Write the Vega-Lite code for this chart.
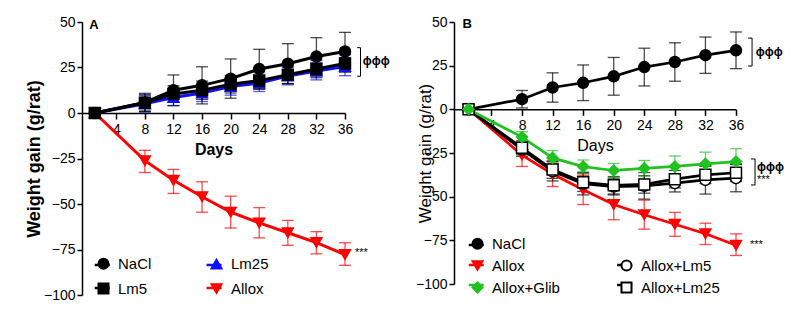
{
  "$schema": "https://vega.github.io/schema/vega-lite/v6.json",
  "background": "white",
  "padding": {"left": 25, "top": 15, "right": 0, "bottom": 0},
  "config": {
    "view": {"stroke": null},
    "font": "Liberation Sans",
    "axis": {"grid": false, "domainColor": "#000", "domainWidth": 1.5, "tickColor": "#000", "tickWidth": 1.5, "labelColor": "#000", "titleColor": "#000", "labelFont": "Liberation Sans", "titleFont": "Liberation Sans", "labelFontSize": 14},
    "legend": {"symbolSize": 100, "symbolStrokeWidth": 2, "labelFontSize": 15, "labelFont": "Liberation Sans", "labelColor": "#000", "labelOffset": 7, "padding": 0, "symbolOpacity": 1}
  },
  "spacing": 25,
  "resolve": {
    "scale": {"x": "independent", "y": "independent", "color": "independent", "stroke": "independent", "fill": "independent", "shape": "independent"},
    "legend": {"color": "independent", "stroke": "independent", "fill": "independent", "shape": "independent"}
  },
  "datasets": {
    "A": [
      {"g": "Allox", "x": 1, "y": 0},
      {"g": "Allox", "x": 8, "y": -26.2, "lo": -32.7, "hi": -20.5},
      {"g": "Allox", "x": 12, "y": -37, "lo": -44.2, "hi": -31},
      {"g": "Allox", "x": 16, "y": -46, "lo": -54.5, "hi": -37.8},
      {"g": "Allox", "x": 20, "y": -54.5, "lo": -63.2, "hi": -45.7},
      {"g": "Allox", "x": 24, "y": -60.4, "lo": -68.6, "hi": -52},
      {"g": "Allox", "x": 28, "y": -65.8, "lo": -72.7, "hi": -59},
      {"g": "Allox", "x": 32, "y": -71.2, "lo": -77.4, "hi": -65.2},
      {"g": "Allox", "x": 36, "y": -77.8, "lo": -83.7, "hi": -71.3},
      {"g": "Lm25", "x": 1, "y": 0},
      {"g": "Lm25", "x": 8, "y": 5, "lo": 0.5, "hi": 9.5},
      {"g": "Lm25", "x": 12, "y": 8.5, "lo": 4, "hi": 13},
      {"g": "Lm25", "x": 16, "y": 11, "lo": 6.3, "hi": 15.7},
      {"g": "Lm25", "x": 20, "y": 14.5, "lo": 9.8, "hi": 19.2},
      {"g": "Lm25", "x": 24, "y": 16.5, "lo": 11.8, "hi": 21.2},
      {"g": "Lm25", "x": 28, "y": 20.3, "lo": 15.5, "hi": 25.1},
      {"g": "Lm25", "x": 32, "y": 23, "lo": 18.2, "hi": 27.8},
      {"g": "Lm25", "x": 36, "y": 25.5, "lo": 20.5, "hi": 30.5},
      {"g": "NaCl", "x": 1, "y": 0},
      {"g": "NaCl", "x": 8, "y": 5.8, "lo": 0.8, "hi": 10.8},
      {"g": "NaCl", "x": 12, "y": 12.5, "lo": 4.1, "hi": 20.9},
      {"g": "NaCl", "x": 16, "y": 15.2, "lo": 5, "hi": 25.4},
      {"g": "NaCl", "x": 20, "y": 18.9, "lo": 8.1, "hi": 29.7},
      {"g": "NaCl", "x": 24, "y": 24.2, "lo": 13.4, "hi": 35},
      {"g": "NaCl", "x": 28, "y": 27.1, "lo": 16.1, "hi": 38.1},
      {"g": "NaCl", "x": 32, "y": 31, "lo": 20.6, "hi": 41.4},
      {"g": "NaCl", "x": 36, "y": 33.8, "lo": 23.3, "hi": 44.3},
      {"g": "Lm5", "x": 1, "y": 0},
      {"g": "Lm5", "x": 8, "y": 5.6, "lo": 1.1, "hi": 10.1},
      {"g": "Lm5", "x": 12, "y": 10.5, "lo": 6, "hi": 15},
      {"g": "Lm5", "x": 16, "y": 12.5, "lo": 7.5, "hi": 17.5},
      {"g": "Lm5", "x": 20, "y": 15.8, "lo": 11, "hi": 20.6},
      {"g": "Lm5", "x": 24, "y": 17.8, "lo": 13, "hi": 22.6},
      {"g": "Lm5", "x": 28, "y": 21, "lo": 16.2, "hi": 25.8},
      {"g": "Lm5", "x": 32, "y": 24.2, "lo": 19.4, "hi": 29},
      {"g": "Lm5", "x": 36, "y": 27.2, "lo": 22.4, "hi": 32}
    ],
    "B": [
      {"g": "NaCl", "x": 1, "y": 0},
      {"g": "NaCl", "x": 8, "y": 5.8, "lo": 0.8, "hi": 10.8},
      {"g": "NaCl", "x": 12, "y": 12.5, "lo": 4.1, "hi": 20.9},
      {"g": "NaCl", "x": 16, "y": 15.2, "lo": 5, "hi": 25.4},
      {"g": "NaCl", "x": 20, "y": 18.9, "lo": 8.1, "hi": 29.7},
      {"g": "NaCl", "x": 24, "y": 24.2, "lo": 13.4, "hi": 35},
      {"g": "NaCl", "x": 28, "y": 27.1, "lo": 16.1, "hi": 38.1},
      {"g": "NaCl", "x": 32, "y": 31, "lo": 20.6, "hi": 41.4},
      {"g": "NaCl", "x": 36, "y": 33.8, "lo": 23.3, "hi": 44.3},
      {"g": "Allox", "x": 1, "y": 0},
      {"g": "Allox", "x": 8, "y": -26.2, "lo": -32.7, "hi": -20.5},
      {"g": "Allox", "x": 12, "y": -37, "lo": -44.2, "hi": -31},
      {"g": "Allox", "x": 16, "y": -46, "lo": -54.5, "hi": -37.8},
      {"g": "Allox", "x": 20, "y": -54.5, "lo": -63.2, "hi": -45.7},
      {"g": "Allox", "x": 24, "y": -60.4, "lo": -68.6, "hi": -52},
      {"g": "Allox", "x": 28, "y": -65.8, "lo": -72.7, "hi": -59},
      {"g": "Allox", "x": 32, "y": -71.2, "lo": -77.4, "hi": -65.2},
      {"g": "Allox", "x": 36, "y": -77.8, "lo": -83.7, "hi": -71.3},
      {"g": "Allox+Lm5", "x": 1, "y": 0},
      {"g": "Allox+Lm5", "x": 8, "y": -23, "lo": -27, "hi": -19},
      {"g": "Allox+Lm5", "x": 12, "y": -35.5, "lo": -41, "hi": -30},
      {"g": "Allox+Lm5", "x": 16, "y": -42.5, "lo": -49, "hi": -36},
      {"g": "Allox+Lm5", "x": 20, "y": -44.2, "lo": -49, "hi": -39.4},
      {"g": "Allox+Lm5", "x": 24, "y": -43.8, "lo": -51.4, "hi": -36.2},
      {"g": "Allox+Lm5", "x": 28, "y": -42.3, "lo": -47.3, "hi": -37.3},
      {"g": "Allox+Lm5", "x": 32, "y": -40.4, "lo": -48.5, "hi": -32.3},
      {"g": "Allox+Lm5", "x": 36, "y": -39.4, "lo": -47.2, "hi": -31.6},
      {"g": "Allox+Lm25", "x": 1, "y": 0},
      {"g": "Allox+Lm25", "x": 8, "y": -22, "lo": -26, "hi": -18},
      {"g": "Allox+Lm25", "x": 12, "y": -34.5, "lo": -39.5, "hi": -29.5},
      {"g": "Allox+Lm25", "x": 16, "y": -41.8, "lo": -47, "hi": -36.6},
      {"g": "Allox+Lm25", "x": 20, "y": -43.5, "lo": -48.5, "hi": -38.5},
      {"g": "Allox+Lm25", "x": 24, "y": -43, "lo": -48, "hi": -38},
      {"g": "Allox+Lm25", "x": 28, "y": -40, "lo": -45, "hi": -35},
      {"g": "Allox+Lm25", "x": 32, "y": -37.5, "lo": -42.5, "hi": -32.5},
      {"g": "Allox+Lm25", "x": 36, "y": -36.3, "lo": -41.3, "hi": -31.3},
      {"g": "Allox+Glib", "x": 1, "y": 0},
      {"g": "Allox+Glib", "x": 8, "y": -15.9, "lo": -19, "hi": -12.8},
      {"g": "Allox+Glib", "x": 12, "y": -27.8, "lo": -31.8, "hi": -23.6},
      {"g": "Allox+Glib", "x": 16, "y": -32.8, "lo": -37, "hi": -29},
      {"g": "Allox+Glib", "x": 20, "y": -35, "lo": -39, "hi": -31},
      {"g": "Allox+Glib", "x": 24, "y": -33.8, "lo": -38.3, "hi": -29.3},
      {"g": "Allox+Glib", "x": 28, "y": -32.7, "lo": -38.7, "hi": -26.7},
      {"g": "Allox+Glib", "x": 32, "y": -31.2, "lo": -37.9, "hi": -24.5},
      {"g": "Allox+Glib", "x": 36, "y": -29.9, "lo": -37.3, "hi": -22.5}
    ],
    "annA": [
      {"x": 38.17, "y": 20.2, "x2": 38.17, "y2": 35.9},
      {"x": 37.7, "y": 35.9, "x2": 38.17, "y2": 35.9},
      {"x": 37.7, "y": 20.2, "x2": 38.17, "y2": 20.2}
    ],
    "txtA": [
      {"k": "phi", "x": 38.5, "y": 28.6, "t": "ϕϕϕ"},
      {"k": "star", "x": 37.4, "y": -76.8, "t": "***"},
      {"k": "lab", "x": 0.2, "y": 46, "t": "A"}
    ],
    "annB": [
      {"x": 38.1, "y": 24.8, "x2": 38.1, "y2": 40.8},
      {"x": 37.57, "y": 40.8, "x2": 38.1, "y2": 40.8},
      {"x": 37.57, "y": 24.8, "x2": 38.1, "y2": 24.8},
      {"x": 38.49, "y": -43.3, "x2": 38.49, "y2": -28.4},
      {"x": 37.96, "y": -28.4, "x2": 38.49, "y2": -28.4},
      {"x": 37.96, "y": -43.3, "x2": 38.49, "y2": -43.3}
    ],
    "txtB": [
      {"k": "phi", "x": 38.6, "y": 32.8, "t": "ϕϕϕ"},
      {"k": "phi", "x": 38.75, "y": -33, "t": "ϕϕϕ"},
      {"k": "star", "x": 38.75, "y": -40.5, "t": "***"},
      {"k": "star", "x": 37.83, "y": -77.7, "t": "***"},
      {"k": "lab", "x": 0.2, "y": 46.6, "t": "B"}
    ]
  },
  "hconcat": [
    {
      "width": 263,
      "height": 273,
      "encoding": {
        "x": {"field": "x", "type": "quantitative", "scale": {"domain": [-0.8, 36], "nice": false, "zero": false},
          "axis": {"title": "Days", "values": [4, 8, 12, 16, 20, 24, 28, 32, 36], "offset": -182, "tickSize": 6, "labelPadding": 3, "titleFontSize": 16, "titleFontWeight": "bold", "titlePadding": 5, "labelFlush": false}},
        "y": {"field": "y", "type": "quantitative", "title": "Weight gain (g/rat)", "scale": {"domain": [-100, 50], "nice": false, "zero": false},
          "axis": {"values": [-100, -75, -50, -25, 0, 25, 50], "tickSize": 5, "labelPadding": 2, "titleFontSize": 18, "titleFontWeight": "bold", "titlePadding": 0}}
      },
      "layer": [
        {"data": {"name": "A"}, "mark": {"type": "rule", "strokeWidth": 1.3, "opacity": 0.7},
          "encoding": {"y": {"field": "lo", "type": "quantitative", "title": "Weight gain (g/rat)", "scale": {"domain": [-100, 50], "nice": false, "zero": false}}, "y2": {"field": "hi"},
            "color": {"condition": [{"test": "datum.g === 'Allox'", "value": "#ff0000"}, {"test": "datum.g === 'Lm25'", "value": "#1010ff"}], "value": "#000000"}}},
        {"data": {"name": "A"}, "mark": {"type": "rule", "strokeWidth": 1.3, "opacity": 0.7, "xOffset": -6, "x2Offset": 6},
          "encoding": {"y": {"field": "hi", "type": "quantitative", "title": "Weight gain (g/rat)", "scale": {"domain": [-100, 50], "nice": false, "zero": false}}, "x2": {"field": "x"},
            "color": {"condition": [{"test": "datum.g === 'Allox'", "value": "#ff0000"}, {"test": "datum.g === 'Lm25'", "value": "#1010ff"}], "value": "#000000"}}},
        {"data": {"name": "A"}, "mark": {"type": "rule", "strokeWidth": 1.3, "opacity": 0.7, "xOffset": -6, "x2Offset": 6},
          "encoding": {"y": {"field": "lo", "type": "quantitative", "title": "Weight gain (g/rat)", "scale": {"domain": [-100, 50], "nice": false, "zero": false}}, "x2": {"field": "x"},
            "color": {"condition": [{"test": "datum.g === 'Allox'", "value": "#ff0000"}, {"test": "datum.g === 'Lm25'", "value": "#1010ff"}], "value": "#000000"}}},
        {"data": {"name": "A"}, "mark": {"type": "line", "strokeWidth": 3},
          "encoding": {"color": {"field": "g", "type": "nominal", "scale": {"domain": ["NaCl", "Lm5", "Lm25", "Allox", "~"], "range": ["#000000", "#000000", "#1010ff", "#ff0000", "transparent"]},
            "legend": {"title": null, "orient": "none", "legendX": 11.25, "legendY": 234, "columns": 2, "rowPadding": 6, "columnPadding": 82.8, "symbolType": "stroke", "symbolSize": 225, "symbolStrokeWidth": 2.5, "labelExpr": "''", "values": ["NaCl", "Lm5", "Lm25", "Allox"]}}}},
        {"data": {"name": "A"}, "mark": {"type": "point", "size": 120, "strokeWidth": 1.5, "opacity": 1},
          "encoding": {
            "stroke": {"field": "g", "type": "nominal", "scale": {"domain": ["NaCl", "Lm5", "Lm25", "Allox"], "range": ["#000000", "#000000", "#1010ff", "#ff0000"]},
              "legend": {"title": null, "orient": "none", "legendX": 14, "legendY": 234, "columns": 2, "rowPadding": 6, "columnPadding": 55}},
            "fill": {"field": "g", "type": "nominal", "scale": {"domain": ["NaCl", "Lm5", "Lm25", "Allox"], "range": ["#000000", "#000000", "#1010ff", "#ff0000"]},
              "legend": {"title": null, "orient": "none", "legendX": 14, "legendY": 234, "columns": 2, "rowPadding": 6, "columnPadding": 55}},
            "shape": {"field": "g", "type": "nominal", "scale": {"domain": ["NaCl", "Lm5", "Lm25", "Allox"], "range": ["circle", "square", "triangle-up", "triangle-down"]},
              "legend": {"title": null, "orient": "none", "legendX": 14, "legendY": 234, "columns": 2, "rowPadding": 6, "columnPadding": 55}}
          }},
        {"data": {"name": "annA"}, "mark": {"type": "rule", "strokeWidth": 1, "color": "#000000"},
          "encoding": {"x2": {"field": "x2"}, "y2": {"field": "y2"}}},
        {"data": {"name": "txtA"}, "transform": [{"filter": "datum.k === 'phi'"}], "mark": {"type": "text", "align": "left", "baseline": "middle", "fontWeight": "bold", "fontSize": 12, "color": "#000000"},
          "encoding": {"text": {"field": "t"}}},
        {"data": {"name": "txtA"}, "transform": [{"filter": "datum.k === 'star'"}], "mark": {"type": "text", "align": "left", "baseline": "middle", "fontSize": 11, "color": "#000000"},
          "encoding": {"text": {"field": "t"}}},
        {"data": {"name": "txtA"}, "transform": [{"filter": "datum.k === 'lab'"}], "mark": {"type": "text", "align": "left", "baseline": "alphabetic", "fontWeight": "bold", "fontSize": 13, "color": "#000000"},
          "encoding": {"text": {"field": "t"}}}
      ]
    },
    {
      "width": 282,
      "height": 262,
      "encoding": {
        "x": {"field": "x", "type": "quantitative", "scale": {"domain": [-0.9, 36], "nice": false, "zero": false},
          "axis": {"title": "Days", "values": [4, 8, 12, 16, 20, 24, 28, 32, 36], "offset": -174.7, "tickSize": 6, "labelPadding": 3, "titleFontSize": 16, "titleFontWeight": "normal", "titlePadding": 5, "labelFlush": false}},
        "y": {"field": "y", "type": "quantitative", "title": "Weight gain (g/rat)", "scale": {"domain": [-100, 50], "nice": false, "zero": false},
          "axis": {"values": [-100, -75, -50, -25, 0, 25, 50], "tickSize": 5, "labelPadding": 2, "titleFontSize": 17, "titleFontWeight": "normal", "titlePadding": -19}}
      },
      "layer": [
        {"data": {"name": "B"}, "mark": {"type": "rule", "strokeWidth": 1.3, "opacity": 0.7},
          "encoding": {"y": {"field": "lo", "type": "quantitative", "title": "Weight gain (g/rat)", "scale": {"domain": [-100, 50], "nice": false, "zero": false}}, "y2": {"field": "hi"},
            "color": {"condition": [{"test": "datum.g === 'Allox'", "value": "#ff0000"}, {"test": "datum.g === 'Allox+Glib'", "value": "#21c121"}], "value": "#000000"}}},
        {"data": {"name": "B"}, "mark": {"type": "rule", "strokeWidth": 1.3, "opacity": 0.7, "xOffset": -6, "x2Offset": 6},
          "encoding": {"y": {"field": "hi", "type": "quantitative", "title": "Weight gain (g/rat)", "scale": {"domain": [-100, 50], "nice": false, "zero": false}}, "x2": {"field": "x"},
            "color": {"condition": [{"test": "datum.g === 'Allox'", "value": "#ff0000"}, {"test": "datum.g === 'Allox+Glib'", "value": "#21c121"}], "value": "#000000"}}},
        {"data": {"name": "B"}, "mark": {"type": "rule", "strokeWidth": 1.3, "opacity": 0.7, "xOffset": -6, "x2Offset": 6},
          "encoding": {"y": {"field": "lo", "type": "quantitative", "title": "Weight gain (g/rat)", "scale": {"domain": [-100, 50], "nice": false, "zero": false}}, "x2": {"field": "x"},
            "color": {"condition": [{"test": "datum.g === 'Allox'", "value": "#ff0000"}, {"test": "datum.g === 'Allox+Glib'", "value": "#21c121"}], "value": "#000000"}}},
        {"data": {"name": "B"}, "mark": {"type": "line", "strokeWidth": 2.7},
          "encoding": {"color": {"field": "g", "type": "nominal", "scale": {"domain": ["NaCl", "Allox", "Allox+Glib", " ", "Allox+Lm5", "Allox+Lm25", "~"], "range": ["#000000", "#ff0000", "#21c121", "transparent", "#000000", "#000000", "transparent"]},
            "legend": {"title": null, "orient": "none", "legendX": 13.25, "legendY": 214, "columns": 2, "rowPadding": 3, "columnPadding": 119.4, "symbolType": "stroke", "symbolSize": 225, "symbolStrokeWidth": 2.5, "labelExpr": "''", "values": ["NaCl", "Allox", "Allox+Glib", " ", "Allox+Lm5", "Allox+Lm25"]}}}},
        {"data": {"name": "B"}, "mark": {"type": "point", "size": 120, "strokeWidth": 1.5, "opacity": 1},
          "encoding": {
            "stroke": {"field": "g", "type": "nominal", "scale": {"domain": ["NaCl", "Allox", "Allox+Glib", " ", "Allox+Lm5", "Allox+Lm25"], "range": ["#000000", "#ff0000", "#21c121", "transparent", "#000000", "#000000"]},
              "legend": {"title": null, "orient": "none", "legendX": 16, "legendY": 214, "columns": 2, "rowPadding": 3, "columnPadding": 57}},
            "fill": {"field": "g", "type": "nominal", "scale": {"domain": ["NaCl", "Allox", "Allox+Glib", " ", "Allox+Lm5", "Allox+Lm25"], "range": ["#000000", "#ff0000", "#21c121", "transparent", "#ffffff", "#ffffff"]},
              "legend": {"title": null, "orient": "none", "legendX": 16, "legendY": 214, "columns": 2, "rowPadding": 3, "columnPadding": 57}},
            "shape": {"field": "g", "type": "nominal", "scale": {"domain": ["NaCl", "Allox", "Allox+Glib", " ", "Allox+Lm5", "Allox+Lm25"], "range": ["circle", "triangle-down", "diamond", "circle", "circle", "square"]},
              "legend": {"title": null, "orient": "none", "legendX": 16, "legendY": 214, "columns": 2, "rowPadding": 3, "columnPadding": 57}}
          }},
        {"data": {"name": "annB"}, "mark": {"type": "rule", "strokeWidth": 1, "color": "#000000"},
          "encoding": {"x2": {"field": "x2"}, "y2": {"field": "y2"}}},
        {"data": {"name": "txtB"}, "transform": [{"filter": "datum.k === 'phi'"}], "mark": {"type": "text", "align": "left", "baseline": "middle", "fontWeight": "bold", "fontSize": 12, "color": "#000000"},
          "encoding": {"text": {"field": "t"}}},
        {"data": {"name": "txtB"}, "transform": [{"filter": "datum.k === 'star'"}], "mark": {"type": "text", "align": "left", "baseline": "middle", "fontSize": 11, "color": "#000000"},
          "encoding": {"text": {"field": "t"}}},
        {"data": {"name": "txtB"}, "transform": [{"filter": "datum.k === 'lab'"}], "mark": {"type": "text", "align": "left", "baseline": "alphabetic", "fontWeight": "bold", "fontSize": 13, "color": "#000000"},
          "encoding": {"text": {"field": "t"}}}
      ]
    }
  ]
}
